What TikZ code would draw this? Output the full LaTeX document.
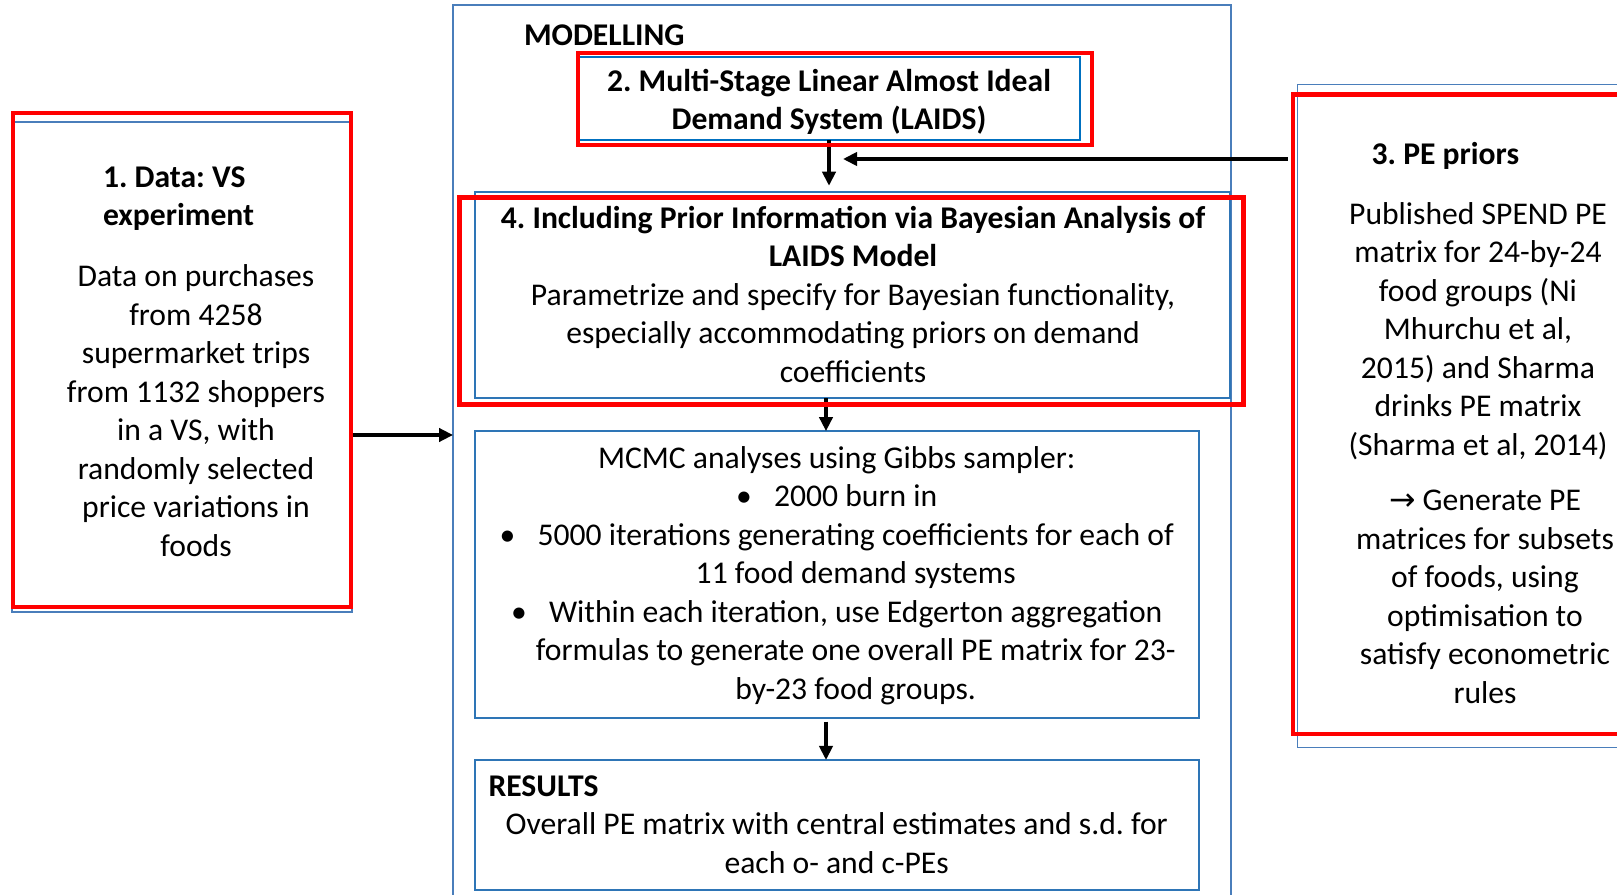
\documentclass[tikz,border=0pt]{standalone}
\usepackage{fontspec}
\setmainfont{Carlito}
\newfontfamily\symfont{DejaVu Sans}
\usetikzlibrary{arrows.meta}
\frenchspacing

\definecolor{frameblue}{RGB}{74,126,187}
\definecolor{boxblue}{RGB}{46,117,182}
\definecolor{laidsblue}{RGB}{0,112,192}
\definecolor{markred}{RGB}{255,0,0}

\newcommand{\bul}{\makebox[0.76cm][l]{\textbullet}}
\newcommand{\hang}{\hspace*{0.76cm}}

\begin{document}
\begin{tikzpicture}[x=0.02cm,y=-0.02cm,font=\fontsize{18}{21.9}\selectfont,
  every node/.style={inner sep=0pt,outer sep=0pt},
  thinbox/.style={draw=frameblue,line width=0.8pt},
  bluebox/.style={draw=boxblue,line width=1.1pt},
  redframe/.style={draw=markred,line width=2.6pt},
  arr/.style={-{Triangle[length=8pt,width=7.5pt]},line width=2pt},
  txt/.style={align=center,anchor=base},
  head/.style={font=\fontsize{18}{21.9}\selectfont\bfseries,align=left,anchor=base west}]
  \useasboundingbox (0,0) rectangle (1617,895);

  % boxes
  \node[thinbox,minimum width=6.8cm,minimum height=9.8cm] (data) at (182,367) {};
  \node[thinbox,minimum width=15.56cm,minimum height=17.92cm] (modelbox) at (842,453) {};
  \node[draw=laidsblue,line width=0.8pt,minimum width=10.04cm,minimum height=1.66cm] (laids) at (829,98.5) {};
  \node[bluebox,minimum width=15.1cm,minimum height=4.13cm] (bayes) at (852.25,295) {};
  \node[bluebox,minimum width=14.48cm,minimum height=5.73cm] (mcmc) at (836.7,574.35) {};
  \node[bluebox,minimum width=14.48cm,minimum height=2.6cm] (results) at (836.7,825) {};
  \node[thinbox,minimum width=6.85cm,minimum height=13.26cm] (priors) at (1468.85,416.2) {};

  % texts (base = last line)
  \node[head] (modtitle) at (524,46) {MODELLING};
  \node[txt,font=\fontsize{18}{21.9}\selectfont\bfseries] (laidstxt) at (829,130)
    {2. Multi-Stage Linear Almost Ideal\\Demand System (LAIDS)};
  \node[txt] (bayestxt) at (853,382)
    {\textbf{4. Including Prior Information via Bayesian Analysis of}\\\textbf{LAIDS Model}\\
     Parametrize and specify for Bayesian functionality,\\especially accommodating priors on demand\\coefficients};
  \node[head] (datahead) at (103,226) {1. Data: VS\\experiment};
  \node[txt] (databody) at (196,556)
    {Data on purchases\\from 4258\\supermarket trips\\from 1132 shoppers\\in a VS, with\\randomly selected\\price variations in\\foods};
  \node[head] (priorshead) at (1371.7,165) {3. PE priors};
  \node[txt] (priorsbody) at (1478,455)
    {Published SPEND PE\\matrix for 24-by-24\\food groups (Ni\\Mhurchu et al,\\2015) and Sharma\\drinks PE matrix\\(Sharma et al, 2014)};
  \node[txt] (priorsgen) at (1485,703)
    {{\symfont →} Generate PE\\matrices for subsets\\of foods, using\\optimisation to\\satisfy econometric\\rules};
  \node[txt] (mcmctxt) at (836.7,699)
    {MCMC analyses using Gibbs sampler:\\\bul 2000 burn in\\
     \bul 5000 iterations generating coefficients for each of\\\hang 11 food demand systems\\
     \bul Within each iteration, use Edgerton aggregation\\\hang formulas to generate one overall PE matrix for 23-\\
     \hang by-23 food groups.};
  \node[head] (reshead) at (488.5,796) {RESULTS};
  \node[txt] (restxt) at (836.7,873)
    {Overall PE matrix with central estimates and s.d. for\\each o- and c-PEs};

  % arrows
  \coordinate (datarow) at (0,435);
  \coordinate (join) at (843,159);
  \coordinate (flowcol) at (826,0);
  \draw[arr] (data.east |- datarow) -- (modelbox.west |- datarow);
  \draw[arr,shorten <=0.2cm] (priors.west |- join) -- (join);
  \draw[arr,shorten >=0.12cm] (laids.south) -- (laids.south |- bayes.north);
  \draw[arr] (bayes.south -| flowcol) -- (mcmc.north -| flowcol);
  \draw[arr,shorten <=0.08cm] (mcmc.south -| flowcol) -- (results.north -| flowcol);

  % red highlight frames
  \draw[redframe] (13,113) rectangle (351,607);
  \draw[redframe] (578,53) rectangle (1092,145);
  \draw[redframe] (459.4,197.3) rectangle (1243.3,404.5);
  \draw[redframe] (1293,94.6) rectangle (1640,733.8);
\end{tikzpicture}
\end{document}
